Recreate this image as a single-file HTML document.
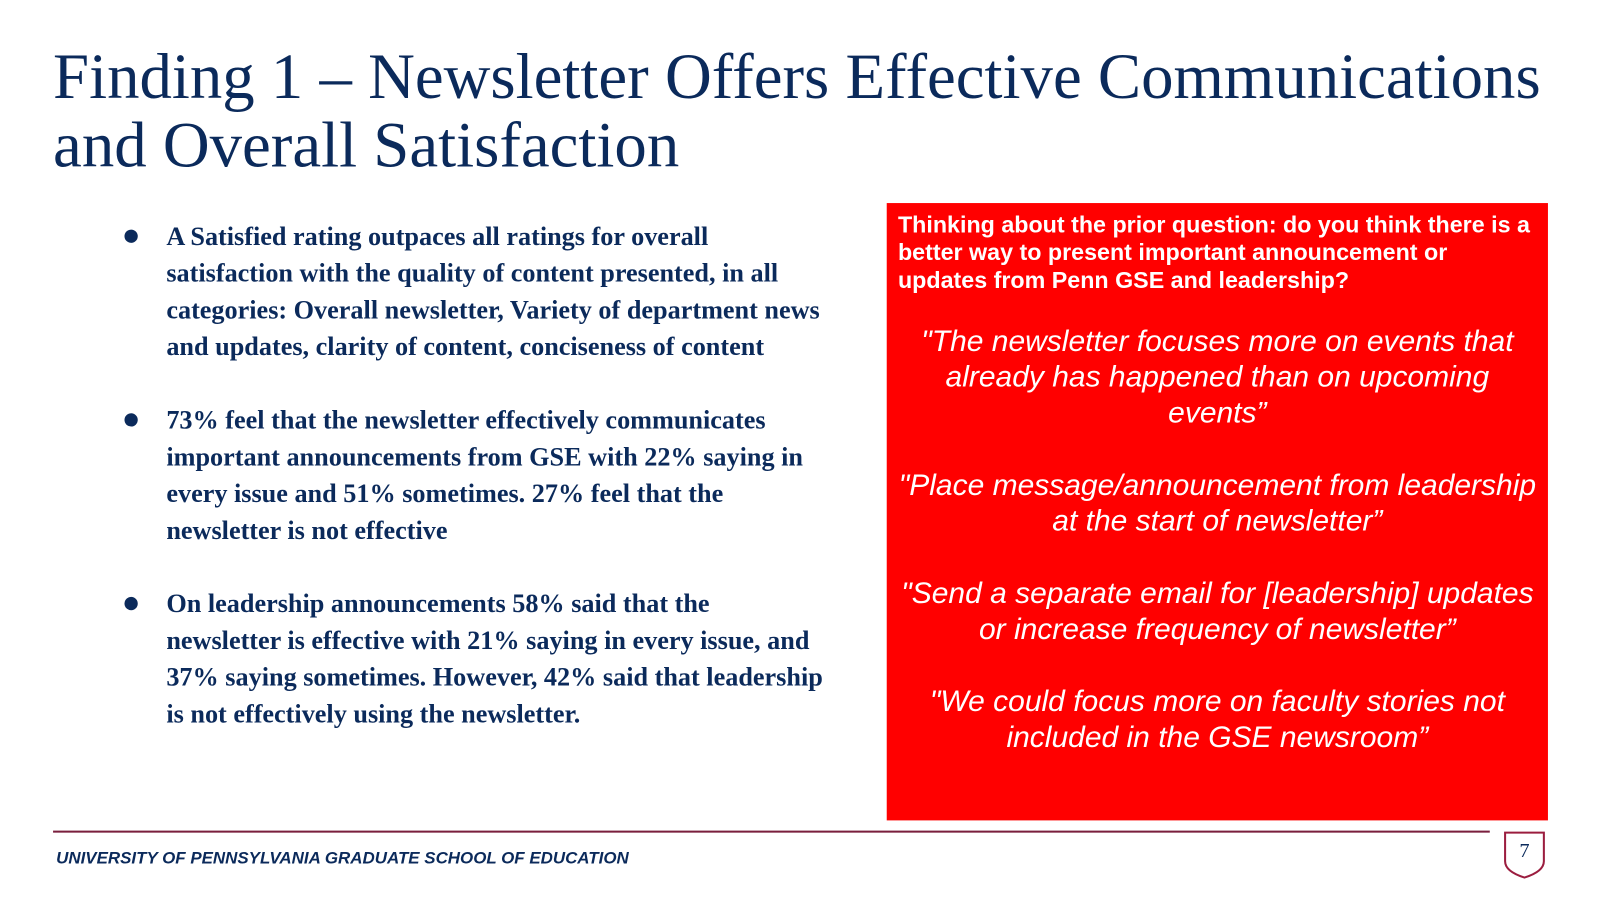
<!DOCTYPE html>
<html><head><meta charset="utf-8"><style>
body{margin:0;width:1600px;height:900px;background:#fff;position:relative;overflow:hidden}
#wrap{position:absolute;left:0;top:0;width:1568px;height:882px;transform:scale(1.0204);transform-origin:0 0}
.t{position:absolute;white-space:nowrap}
.title{left:52px;font-family:"Liberation Serif",serif;font-size:63.5px;color:#0b2a5b;line-height:67px}
.bl{left:163px;font-family:"Liberation Serif",serif;font-weight:bold;font-size:25.7px;color:#0b2a5b;line-height:36px}
.dot{position:absolute;left:122px;width:13px;height:13px;border-radius:50%;background:#0b2a5b}
#box{position:absolute;left:869px;top:199px;width:648px;height:605px;background:#ff0000}
.h{left:11px;font-family:"Liberation Sans",sans-serif;font-weight:bold;font-size:22.8px;color:#fff;line-height:27px}
.q{left:0;width:648px;text-align:center;font-family:"Liberation Sans",sans-serif;font-style:italic;font-size:29.4px;color:#fff;line-height:35px}
</style></head><body>
<div id="wrap">
<div class="t title" style="top:41px">Finding 1 – Newsletter Offers Effective Communications<br>and Overall Satisfaction</div>

<div>
<div class="dot" style="top:225px"></div>
<div class="t bl" style="top:214px">A Satisfied rating outpaces all ratings for overall<br>satisfaction with the quality of content presented, in all<br>categories: Overall newsletter, Variety of department news<br>and updates, clarity of content, conciseness of content</div>
<div class="dot" style="top:405px"></div>
<div class="t bl" style="top:394px">73% feel that the newsletter effectively communicates<br>important announcements from GSE with 22% saying in<br>every issue and 51% sometimes. 27% feel that the<br>newsletter is not effective</div>
<div class="dot" style="top:585px"></div>
<div class="t bl" style="top:574px">On leadership announcements 58% said that the<br>newsletter is effective with 21% saying in every issue, and<br>37% saying sometimes. However, 42% said that leadership<br>is not effectively using the newsletter.</div>
</div>

<div id="box">
<div class="t h" style="top:8px">Thinking about the prior question: do you think there is a<br>better way to present important announcement or<br>updates from Penn GSE and leadership?</div>
<div class="t q" style="top:118px">"The newsletter focuses more on events that<br>already has happened than on upcoming<br>events”</div>
<div class="t q" style="top:259px">"Place message/announcement from leadership<br>at the start of newsletter”</div>
<div class="t q" style="top:365px">"Send a separate email for [leadership] updates<br>or increase frequency of newsletter”</div>
<div class="t q" style="top:471px">"We could focus more on faculty stories not<br>included in the GSE newsroom”</div>
</div>

<div style="position:absolute;left:52px;top:814px;width:1408px;height:2px;background:#7a1f3d"></div>
<div class="t" style="left:55px;top:831px;font-family:'Liberation Sans',sans-serif;font-weight:bold;font-style:italic;font-size:16.6px;color:#0b2a5b">UNIVERSITY OF PENNSYLVANIA GRADUATE SCHOOL OF EDUCATION</div>
<svg style="position:absolute;left:1473px;top:814px" width="42" height="48">
<path d="M2 2 H40 V30 Q40 40 21 46 Q2 40 2 30 Z" fill="#fff" stroke="#9b1d3f" stroke-width="2"/>
<text x="21" y="26" text-anchor="middle" font-family="Liberation Serif,serif" font-size="20" fill="#0b2a5b">7</text>
</svg>
</div>
</body></html>
